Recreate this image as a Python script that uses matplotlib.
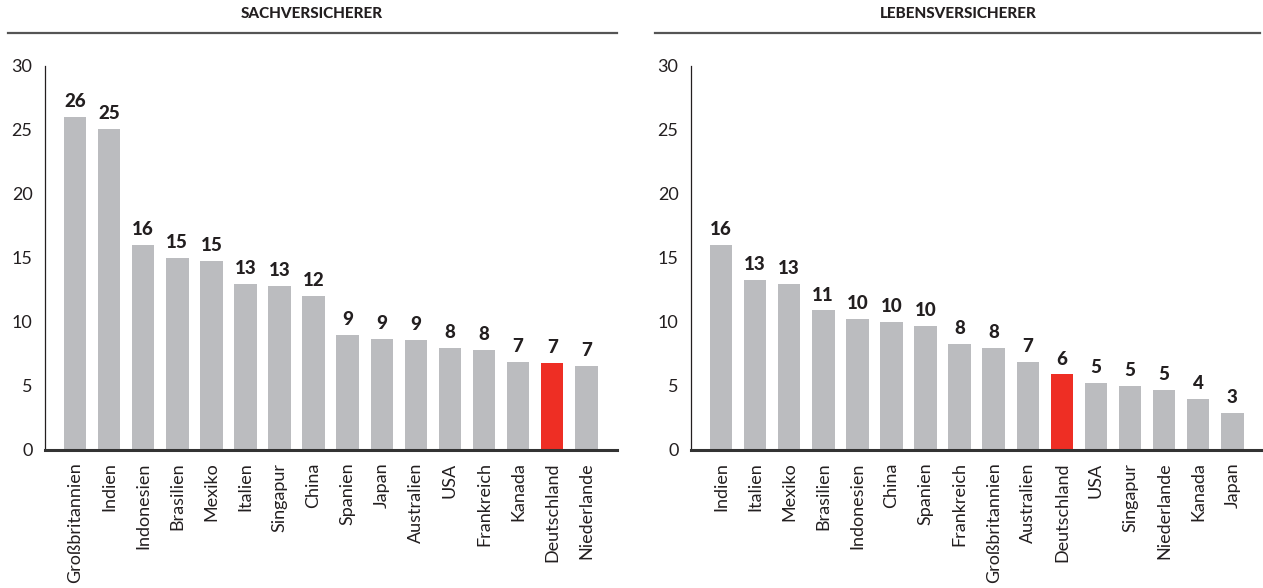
import matplotlib
matplotlib.use("Agg")
from matplotlib import pyplot as plt
from matplotlib.lines import Line2D

plt.rcParams["font.family"] = ["Lato", "DejaVu Sans"]

GREY = "#bbbcbf"
RED = "#ee2e24"
HILITE = "Deutschland"

sach_labels = ["Großbritannien", "Indien", "Indonesien", "Brasilien", "Mexiko",
               "Italien", "Singapur", "China", "Spanien", "Japan",
               "Australien", "USA", "Frankreich", "Kanada", "Deutschland",
               "Niederlande"]
sach_values = [26.0, 25.1, 16.0, 15.0, 14.8, 13.0, 12.8, 12.0, 9.0, 8.7,
               8.6, 8.0, 7.8, 6.9, 6.8, 6.6]

leben_labels = ["Indien", "Italien", "Mexiko", "Brasilien", "Indonesien",
                "China", "Spanien", "Frankreich", "Großbritannien",
                "Australien", "Deutschland", "USA", "Singapur", "Niederlande",
                "Kanada", "Japan"]
leben_values = [16.0, 13.3, 13.0, 10.9, 10.2, 10.0, 9.7, 8.3, 8.0, 6.9,
                5.9, 5.2, 5.0, 4.7, 4.0, 2.9]

y_ticks = [0, 5, 10, 15, 20, 25, 30]


def panel(ax, labels, values, title, title_x, line_x0, line_x1, fig):
    pos = range(len(labels))
    colors = [RED if lab == HILITE else GREY for lab in labels]
    ax.bar(pos, values, width=0.66, color=colors, zorder=2)
    for x, v in zip(pos, values):
        ax.annotate("{:.0f}".format(v), (x, v), xytext=(0, 5),
                    textcoords="offset points", ha="center", va="bottom",
                    fontsize=13.5, fontweight="black", color="#231f20")
    ax.set_xlim(-0.88, len(labels) - 0.1)
    ax.set_ylim(0, 30)
    ax.set_yticks(y_ticks)
    ax.set_xticks(list(pos))
    ax.set_xticklabels(labels, rotation=90, fontsize=13, color="#231f20")
    ax.tick_params(axis="both", length=0)
    ax.tick_params(axis="y", pad=9, labelsize=13, labelcolor="#231f20")
    ax.tick_params(axis="x", pad=9)
    for s in ["top", "right"]:
        ax.spines[s].set_visible(False)
    ax.spines["left"].set_linewidth(0.9)
    ax.spines["left"].set_color("#231f20")
    ax.spines["bottom"].set_linewidth(2.2)
    ax.spines["bottom"].set_color("#333333")
    ax.spines["bottom"].set_zorder(3)

    fig.text(title_x, 1 - 14 / 588, title, ha="center", va="center",
             fontsize=11, fontweight="black", color="#231f20")
    fig.add_artist(Line2D([line_x0, line_x1], [1 - 33 / 588] * 2,
                          color="#555555", linewidth=1.6,
                          transform=fig.transFigure))


fig = plt.figure(figsize=(12.63, 5.88), dpi=100)
ax1 = fig.add_axes([45 / 1263, 1 - 450 / 588, 572 / 1263, 384 / 588])
ax2 = fig.add_axes([691 / 1263, 1 - 450 / 588, 572 / 1263, 384 / 588])

panel(ax1, sach_labels, sach_values, "SACHVERSICHERER", 312 / 1263,
      8 / 1263, 617 / 1263, fig)
panel(ax2, leben_labels, leben_values, "LEBENSVERSICHERER", 958 / 1263,
      655 / 1263, 1260 / 1263, fig)

fig.savefig("out.png", dpi=100)
